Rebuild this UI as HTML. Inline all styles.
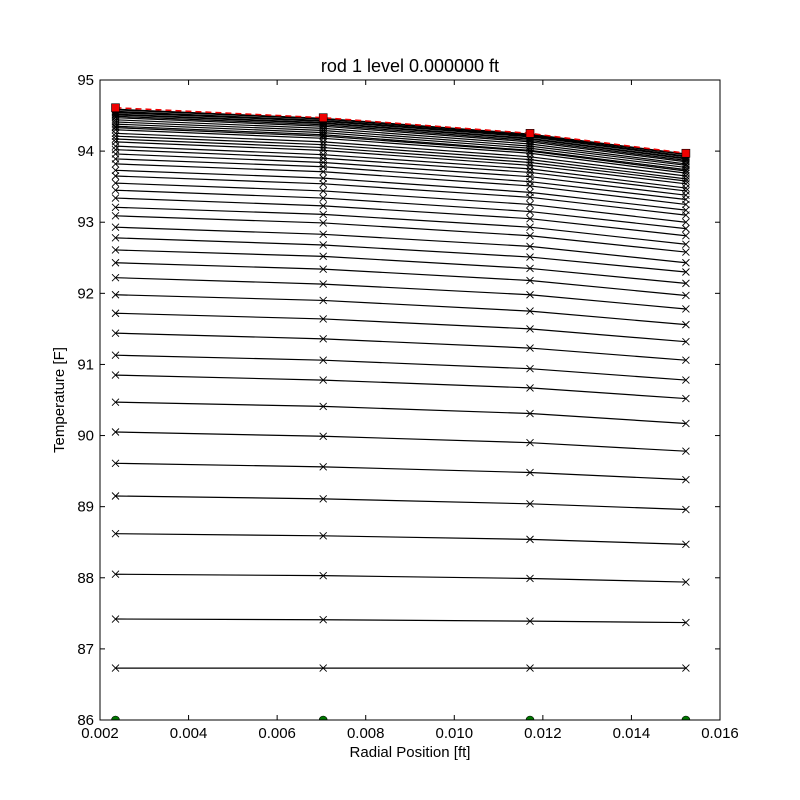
<!DOCTYPE html>
<html><head><meta charset="utf-8"><style>
html,body{margin:0;padding:0;background:#fff;}
svg{display:block;font-family:"Liberation Sans",sans-serif;}
</style></head><body>
<svg id="chart" width="800" height="800" viewBox="0 0 800 800" xmlns="http://www.w3.org/2000/svg">
<rect width="800" height="800" fill="#fff"/>
<g id="marks"></g>
<g id="axes"></g>
</svg>
<script>
const xPositions = [0.00235, 0.00704, 0.01171, 0.01523];
const col0 = [86.73,87.42,88.05,88.62,89.15,89.61,90.05,90.47,90.85,91.13,91.44,91.72,91.98,92.22,92.43,92.61,92.78,92.93,93.09,93.21,93.34,93.45,93.55,93.65,93.73,93.82,93.89,93.96,94.02,94.07,94.13,94.17,94.21,94.25,94.30,94.33,94.35,94.38,94.41,94.44,94.47,94.49,94.51,94.52,94.54,94.55,94.56,94.58,94.59];
const col1 = [86.73,87.41,88.03,88.59,89.11,89.56,89.99,90.41,90.78,91.06,91.36,91.64,91.90,92.13,92.34,92.52,92.68,92.83,92.99,93.11,93.23,93.34,93.44,93.54,93.62,93.71,93.78,93.84,93.90,93.95,94.01,94.05,94.09,94.13,94.18,94.21,94.23,94.26,94.29,94.32,94.35,94.37,94.39,94.40,94.42,94.42,94.43,94.45,94.46];
const col2 = [86.73,87.39,87.99,88.54,89.04,89.48,89.90,90.31,90.67,90.94,91.23,91.50,91.75,91.98,92.18,92.35,92.51,92.66,92.81,92.93,93.05,93.15,93.25,93.35,93.42,93.51,93.57,93.64,93.70,93.75,93.80,93.84,93.88,93.92,93.97,94.00,94.01,94.04,94.07,94.10,94.13,94.15,94.17,94.18,94.20,94.21,94.22,94.23,94.24];
const col3 = [86.73,87.37,87.94,88.47,88.96,89.38,89.78,90.17,90.52,90.78,91.06,91.32,91.56,91.78,91.97,92.14,92.30,92.43,92.58,92.69,92.81,92.91,93.00,93.10,93.17,93.25,93.32,93.38,93.44,93.48,93.54,93.58,93.61,93.65,93.69,93.72,93.74,93.77,93.80,93.82,93.85,93.87,93.89,93.90,93.92,93.92,93.93,93.95,93.96];
const redSeries = [94.61, 94.47, 94.25, 93.97];
const greenSeries = [86, 86, 86, 86];
const xTicks = [0.002,0.004,0.006,0.008,0.010,0.012,0.014,0.016];
const xTickLabels = ["0.002","0.004","0.006","0.008","0.010","0.012","0.014","0.016"];
const yTicks = [86,87,88,89,90,91,92,93,94,95];

const L=100,R=720,T=80,B=720;
const xMin=0.002,xMax=0.016,yMin=86,yMax=95;
const sx=v=>L+(v-xMin)/(xMax-xMin)*(R-L);
const sy=v=>B-(v-yMin)/(yMax-yMin)*(B-T);
const NS="http://www.w3.org/2000/svg";
function mk(tag,attrs,parent){const e=document.createElementNS(NS,tag);for(const k in attrs)e.setAttribute(k,attrs[k]);parent.appendChild(e);return e;}
const marks=document.getElementById('marks');
const axes=document.getElementById('axes');
const clip=mk('clipPath',{id:'pc'},document.getElementById('chart'));
mk('rect',{x:L,y:T,width:R-L,height:B-T},clip);
marks.setAttribute('clip-path','url(#pc)');

for(let i=0;i<col0.length;i++){
  const vals=[col0[i],col1[i],col2[i],col3[i]];
  const pts=vals.map((v,j)=>sx(xPositions[j])+','+sy(v)).join(' ');
  const pl=mk('polyline',{points:pts,fill:'none',stroke:'#000','stroke-width':1.2},marks);
  
  
  vals.forEach((v,j)=>{
    const cx=sx(xPositions[j]),cy=sy(v);
    const m=mk('path',{d:`M${cx-3.5},${cy-3.5}L${cx+3.5},${cy+3.5}M${cx-3.5},${cy+3.5}L${cx+3.5},${cy-3.5}`,stroke:'#000','stroke-width':0.9,fill:'none'},marks);
    
    
  });
}
const red=mk('polyline',{points:redSeries.map((v,j)=>sx(xPositions[j])+','+sy(v)).join(' '),fill:'none',stroke:'#e00','stroke-width':1.5,'stroke-dasharray':'6,4'},marks);


redSeries.forEach((v,j)=>{
  const r=mk('rect',{x:sx(xPositions[j])-4,y:sy(v)-4,width:8,height:8,fill:'#e00',stroke:'#000','stroke-width':0.6},marks);
  
  
});
greenSeries.forEach((v,j)=>{
  const c=mk('circle',{cx:sx(xPositions[j]),cy:sy(v),r:4,fill:'#070',stroke:'#000','stroke-width':0.6},marks);
  
  
});

const frame=mk('rect',{x:L,y:T,width:R-L,height:B-T,fill:'none',stroke:'#000','stroke-width':1},axes);


xTicks.forEach((v,i)=>{
  const x=sx(v);
  mk('line',{x1:x,y1:B,x2:x,y2:B-5,stroke:'#000'},axes);
  mk('line',{x1:x,y1:T,x2:x,y2:T+5,stroke:'#000'},axes);
  const t=mk('text',{x:x,y:B+18,'text-anchor':'middle','font-size':15},axes);
  t.textContent=xTickLabels[i];
  
  
});
yTicks.forEach(v=>{
  const y=sy(v);
  mk('line',{x1:L,y1:y,x2:L+5,y2:y,stroke:'#000'},axes);
  mk('line',{x1:R,y1:y,x2:R-5,y2:y,stroke:'#000'},axes);
  const t=mk('text',{x:L-6,y:y+5,'text-anchor':'end','font-size':15},axes);
  t.textContent=String(v);
  
  
});
const title=mk('text',{x:410,y:72,'text-anchor':'middle','font-size':18},axes);
title.textContent='rod 1 level 0.000000 ft';


const xl=mk('text',{x:410,y:757,'text-anchor':'middle','font-size':15},axes);
xl.textContent='Radial Position [ft]';


const yl=mk('text',{x:64,y:400,'text-anchor':'middle','font-size':15,transform:'rotate(-90 64 400)'},axes);
yl.textContent='Temperature [F]';


</script>
</body></html>
